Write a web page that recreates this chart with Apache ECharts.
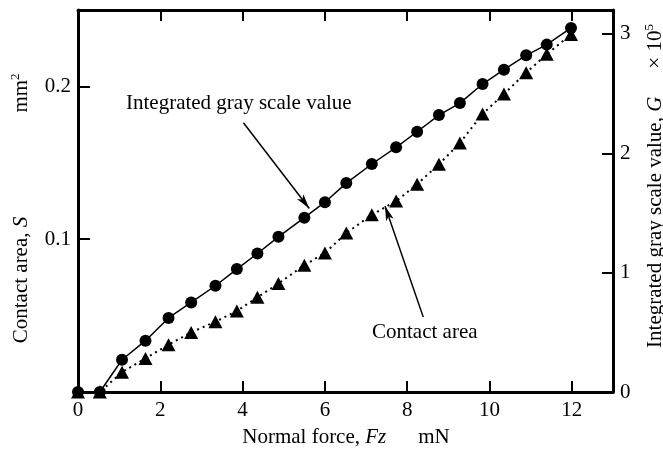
<!DOCTYPE html>
<html>
<head>
<meta charset="utf-8">
<script src="https://cdn.jsdelivr.net/npm/echarts@6/dist/echarts.min.js"></script>
<style>
  html, body { margin: 0; padding: 0; background: #fff; }
  #chart { width: 663px; height: 452px; }
</style>
</head>
<body>
<div id="chart"></div>
<script>
// Normal force Fz (mN) at each measurement step
const forceFz = [0, 0.53, 1.07, 1.64, 2.2, 2.75, 3.34, 3.86, 4.36, 4.87, 5.5, 6.0,
                 6.52, 7.14, 7.73, 8.24, 8.77, 9.28, 9.83, 10.35, 10.89, 11.39, 11.98];
// Integrated gray scale value G (x10^5), right axis
const grayG = [0, 0, 0.27, 0.43, 0.62, 0.75, 0.89, 1.03, 1.16, 1.30, 1.46, 1.59,
               1.75, 1.91, 2.05, 2.18, 2.32, 2.42, 2.58, 2.70, 2.82, 2.91, 3.05];
// Contact area S (mm^2), left axis
const areaS = [0, 0, 0.013, 0.022, 0.031, 0.039, 0.046, 0.053, 0.062, 0.071, 0.083, 0.091,
               0.104, 0.116, 0.125, 0.136, 0.149, 0.163, 0.182, 0.195, 0.209, 0.221, 0.234];

const xTicks = [0, 2, 4, 6, 8, 10, 12];
const leftTicks = [0.1, 0.2];
const rightTicks = [0, 1, 2, 3];

// Arrow lines for the two callouts, in data units: [from, to]
const grayArrow = [[4.02, 2.256], [5.62, 1.537]];
const areaArrow = [[8.39, 0.049], [7.46, 0.1218]];

const SERIF = "'Liberation Serif', 'Times New Roman', serif";
const INK = '#000';

const hasTick = (list, v) => list.some(t => Math.abs(t - v) < 1e-9);

const axisLineStyle = { show: true, onZero: false, lineStyle: { color: INK, width: 3 } };
const tickStyle = { show: true, inside: true, length: 11, lineStyle: { color: INK, width: 2 } };
const labelFont = { color: INK, fontFamily: SERIF, fontSize: 21 };

const chart = echarts.init(document.getElementById('chart'), null, { renderer: 'canvas' });

chart.setOption({
  animation: false,
  backgroundColor: '#fff',
  grid: { left: 78, right: 50, top: 10, bottom: 60, containLabel: false },
  xAxis: [
    {
      type: 'value', position: 'bottom', min: 0, max: 13, interval: 2,
      axisLine: axisLineStyle, axisTick: tickStyle, splitLine: { show: false },
      axisLabel: Object.assign({ margin: 8, formatter: v => hasTick(xTicks, v) ? String(v) : '' }, labelFont)
    },
    {
      type: 'value', position: 'top', min: 0, max: 13, interval: 2,
      axisLine: axisLineStyle, axisTick: tickStyle, splitLine: { show: false },
      axisLabel: { show: false }
    }
  ],
  yAxis: [
    {
      type: 'value', position: 'left', min: 0, max: 0.25, interval: 0.1,
      axisLine: axisLineStyle, axisTick: Object.assign({}, tickStyle, { length: 12 }),
      splitLine: { show: false },
      axisLabel: Object.assign({ margin: 7, formatter: v => hasTick(leftTicks, v) ? v.toFixed(1) : '' }, labelFont)
    },
    {
      type: 'value', position: 'right', min: 0, max: 3.2, interval: 1,
      axisLine: axisLineStyle, axisTick: tickStyle, splitLine: { show: false },
      axisLabel: Object.assign({ margin: 7, formatter: v => hasTick(rightTicks, v) ? String(v) : '' }, labelFont)
    }
  ],
  series: [
    {
      name: 'Integrated gray scale value',
      type: 'line', xAxisIndex: 0, yAxisIndex: 1,
      data: forceFz.map((x, i) => [x, grayG[i]]),
      symbol: 'circle', symbolSize: 12,
      itemStyle: { color: INK },
      lineStyle: { color: INK, width: 1.5 },
      z: 4,
      markLine: {
        silent: true, symbol: ['none', 'arrow'], symbolSize: [6, 15],
        label: { show: false },
        lineStyle: { color: INK, width: 1.5, type: 'solid' },
        data: [[{ coord: grayArrow[0] }, { coord: grayArrow[1] }]]
      }
    },
    {
      name: 'Contact area',
      type: 'line', xAxisIndex: 0, yAxisIndex: 0,
      data: forceFz.map((x, i) => [x, areaS[i]]),
      symbol: 'triangle', symbolSize: [14, 13],
      itemStyle: { color: INK },
      lineStyle: { color: INK, width: 2, type: [2, 4] },
      z: 3,
      markLine: {
        silent: true, symbol: ['none', 'arrow'], symbolSize: [6, 15],
        label: { show: false },
        lineStyle: { color: INK, width: 1.5, type: 'solid' },
        data: [[{ coord: areaArrow[0] }, { coord: areaArrow[1] }]]
      }
    }
  ],
  graphic: [
    // callout labels
    { type: 'text', x: 126, y: 103, style: { text: 'Integrated gray scale value', fill: INK, fontFamily: SERIF, fontSize: 21, align: 'left', verticalAlign: 'middle' } },
    { type: 'text', x: 372, y: 332, style: { text: 'Contact area', fill: INK, fontFamily: SERIF, fontSize: 21, align: 'left', verticalAlign: 'middle' } },
    // bottom axis title
    {
      type: 'text', x: 346, y: 437,
      style: {
        text: 'Normal force, {i|Fz}{gap|}mN', fill: INK, fontFamily: SERIF, fontSize: 21,
        align: 'center', verticalAlign: 'middle',
        rich: { i: { fontStyle: 'italic', fontFamily: SERIF, fontSize: 21 }, gap: { width: 32 } }
      }
    },
    // left axis title
    {
      type: 'text', x: 21, y: 280, rotation: Math.PI / 2,
      style: {
        text: 'Contact area, {i|S}', fill: INK, fontFamily: SERIF, fontSize: 21,
        align: 'center', verticalAlign: 'middle',
        rich: { i: { fontStyle: 'italic', fontFamily: SERIF, fontSize: 21 } }
      }
    },
    {
      type: 'text', x: 21, y: 93, rotation: Math.PI / 2,
      style: {
        text: '{n|mm}{sup|2}', fill: INK, fontFamily: SERIF, fontSize: 21,
        align: 'center', verticalAlign: 'middle',
        rich: {
          n: { fontFamily: SERIF, fontSize: 21, lineHeight: 24 },
          sup: { fontFamily: SERIF, fontSize: 13, lineHeight: 12, verticalAlign: 'top' }
        }
      }
    },
    // right axis title
    {
      type: 'text', x: 655, y: 186, rotation: Math.PI / 2,
      style: {
        text: '{n|Integrated gray scale value, }{i|G}{gap|}{n|× 10}{sup|5}', fill: INK, fontFamily: SERIF, fontSize: 21,
        align: 'center', verticalAlign: 'middle',
        rich: {
          n: { fontFamily: SERIF, fontSize: 21, lineHeight: 24 },
          i: { fontStyle: 'italic', fontFamily: SERIF, fontSize: 21, lineHeight: 24 },
          gap: { width: 28, lineHeight: 24 },
          sup: { fontFamily: SERIF, fontSize: 13, lineHeight: 12, verticalAlign: 'top' }
        }
      }
    }
  ]
});
</script>
</body>
</html>
